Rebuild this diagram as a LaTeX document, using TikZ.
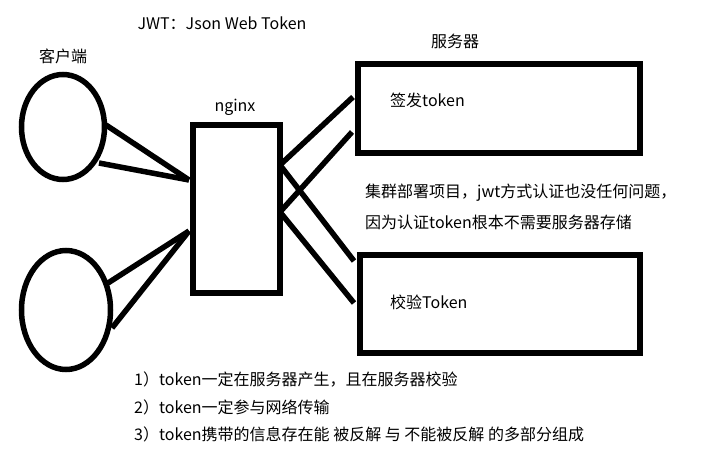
\documentclass[tikz,border=0pt]{standalone}
\usepackage{fontspec}
\setmainfont{Noto Sans CJK SC}
\usetikzlibrary{shapes.geometric}
\begin{document}
\begin{tikzpicture}[x=1pt,y=-1pt,
  box/.style={draw,line width=5.5pt,inner sep=0pt,anchor=north west},
  client/.style={draw,line width=5.5pt,ellipse,inner sep=0pt},
  lbl/.style={font=\fontsize{16}{19}\selectfont,inner sep=0pt},
  conn/.style={line width=5.5pt}]
\useasboundingbox[fill=white] (0,0) rectangle (728,463);
% title
\node[lbl] (title) at (222,23) {JWT：Json Web Token};
% clients
\node[lbl] (clientlbl) at (63,56) {客户端};
\node[client,minimum width=83pt,minimum height=105pt] (c1) at (63,127) {};
\node[client,minimum width=89pt,minimum height=119pt] (c2) at (66,310) {};
% nginx
\node[lbl] (nginxlbl) at (235,107) {nginx};
\node[box,minimum width=87pt,minimum height=168pt] (ng) at (190,122) {};
% servers
\node[lbl] (srvlbl) at (455,41) {服务器};
\node[box,minimum width=282pt,minimum height=89pt] (s1) at (355,61) {};
\node[box,minimum width=280pt,minimum height=98pt] (s2) at (357,252) {};
\node[lbl,anchor=west] (s1t) at (390,100) {签发token};
\node[lbl,anchor=west] (s2t) at (390,302) {校验Token};
% note
\node[lbl,anchor=west] (note1) at (365,193) {集群部署项目，jwt方式认证也没任何问题，};
\node[lbl,anchor=west] (note2) at (365,222) {因为认证token根本不需要服务器存储};
% list
\node[lbl,anchor=west] (l1) at (134,380) {1）token一定在服务器产生，且在服务器校验};
\node[lbl,anchor=west] (l2) at (134,407) {2）token一定参与网络传输};
\node[lbl,anchor=west] (l3) at (134,434) {3）token携带的信息存在能 被反解 与 不能被反解 的多部分组成};
% connection points
\coordinate (ngA) at (189,180);
\coordinate (ngB) at (189,231);
\coordinate (ngC) at (280,165);
\coordinate (ngD) at (280,212);
\coordinate (c1a) at (106,125);
\coordinate (c1b) at (99,163);
\coordinate (c2a) at (108,283);
\coordinate (c2b) at (112,328);
\coordinate (s1a) at (353,97);
\coordinate (s1b) at (352,132);
\coordinate (s2a) at (354,261);
\coordinate (s2b) at (354,303);
\draw[conn] (c1a) -- (ngA);
\draw[conn] (c1b) -- (ngA);
\draw[conn] (c2a) -- (ngB);
\draw[conn] (c2b) -- (ngB);
\draw[conn] (ngC) -- (s1a);
\draw[conn] (ngD) -- (s1b);
\draw[conn] (ngC) -- (s2a);
\draw[conn] (ngD) -- (s2b);
\end{tikzpicture}
\end{document}
